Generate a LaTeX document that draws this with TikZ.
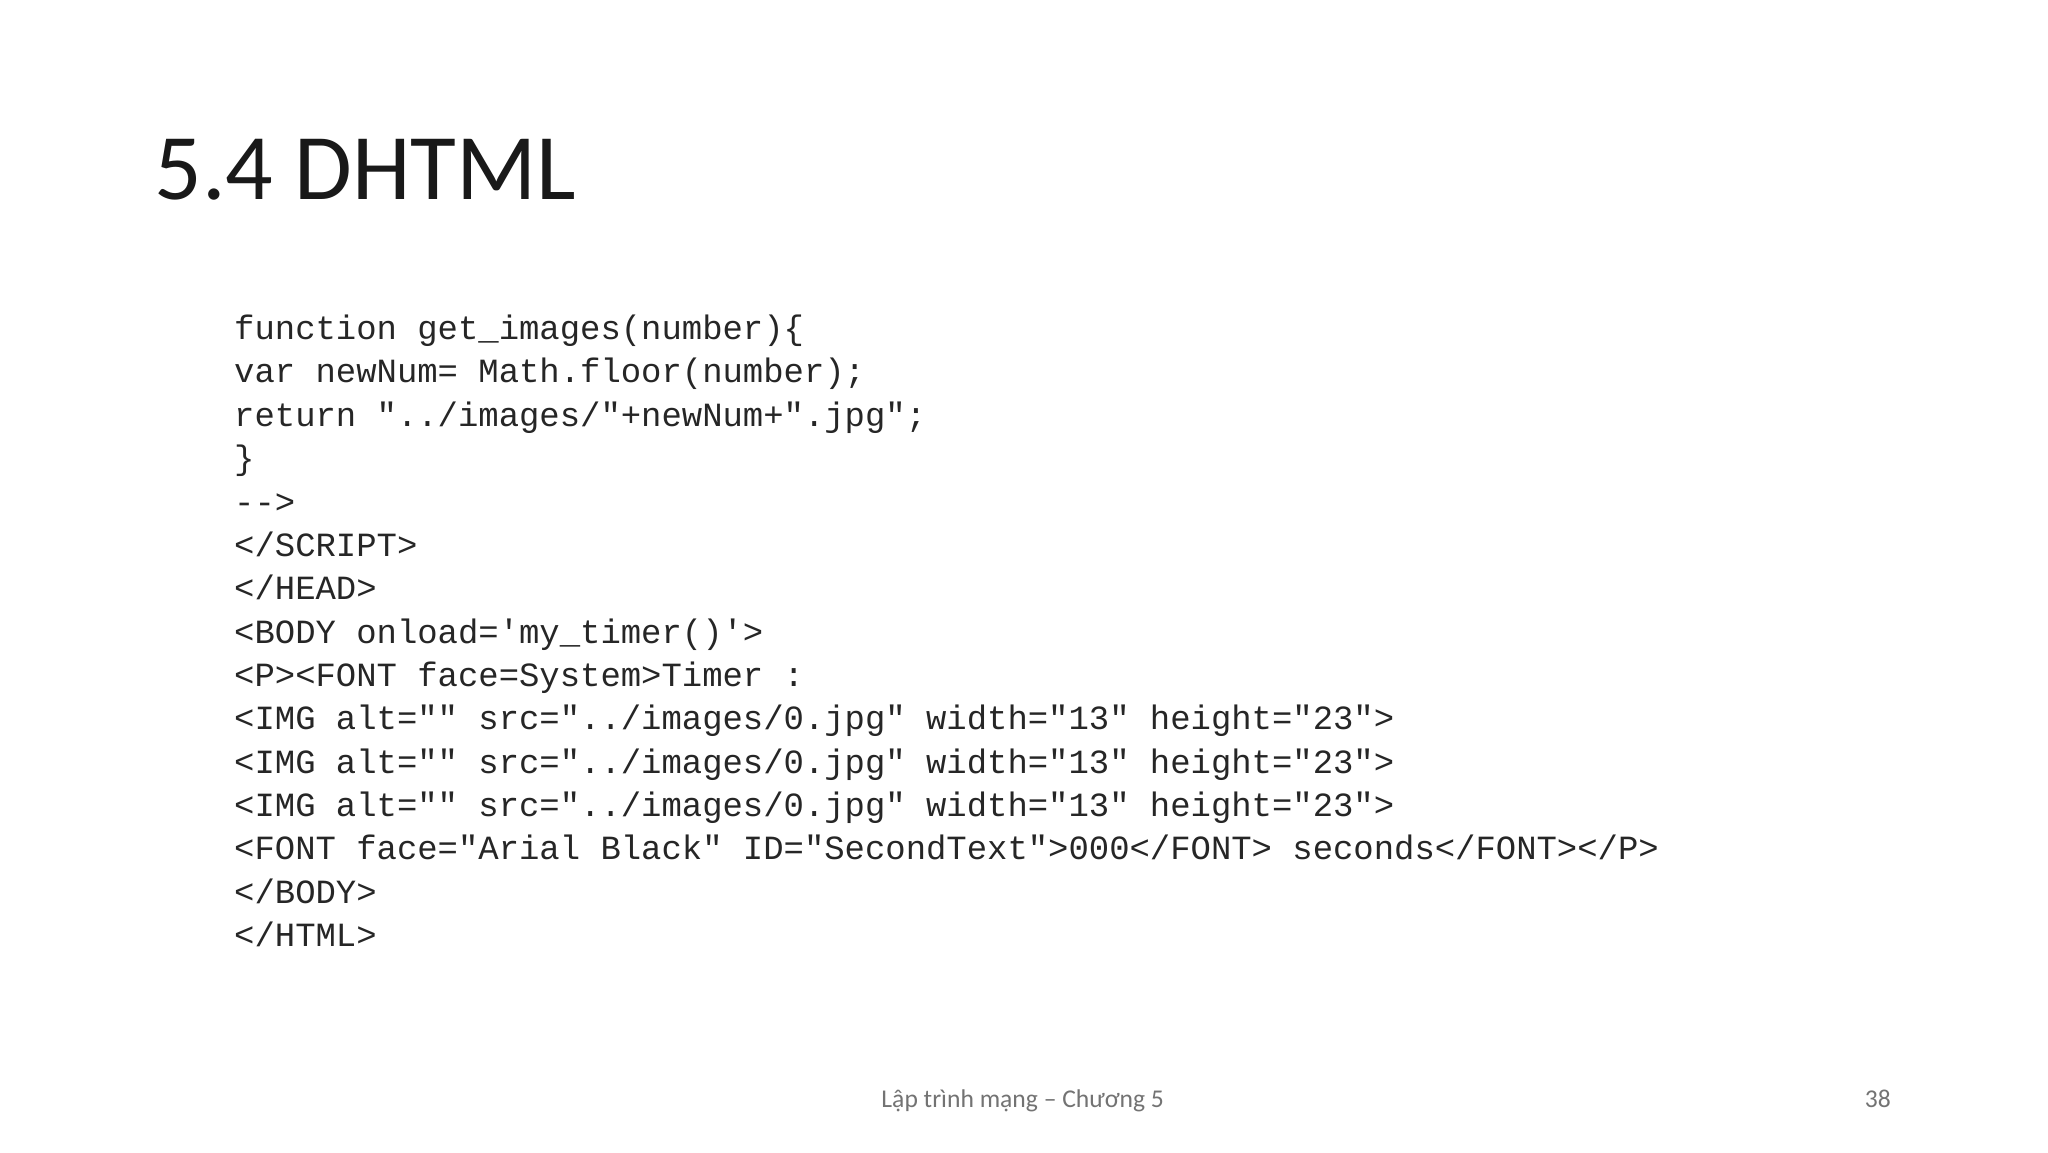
\documentclass[tikz,border=0pt]{standalone}
\usepackage{fontspec}
\setmainfont{Carlito}
\setmonofont{Liberation Mono}
\begin{document}
\begin{tikzpicture}[x=0.6123pt,y=-0.6123pt,
  codeline/.style={anchor=base west,inner sep=0pt,font=\fontsize{15.9}{19}\ttfamily,text=black!85}]
\useasboundingbox[fill=white] (0,0) rectangle (1568,882);
\node[anchor=base west,inner sep=0pt,font=\fontsize{44}{50}\selectfont,text=black!90] (title) at (118,153) {5.4 DHTML};
\node[codeline] (l1) at (179,260) {function get\_images(number)\{};
\node[codeline] (l2) at (179,293.2) {var newNum= Math.floor(number);};
\node[codeline] (l3) at (179,326.4) {return "../images/"+newNum+".jpg";};
\node[codeline] (l4) at (179,359.6) {\}};
\node[codeline] (l5) at (179,392.8) {{-}{-}>};
\node[codeline] (l6) at (179,426) {</SCRIPT>};
\node[codeline] (l7) at (179,459.2) {</HEAD>};
\node[codeline] (l8) at (179,492.4) {<BODY onload='my\_timer()'>};
\node[codeline] (l9) at (179,525.6) {<P><FONT face=System>Timer :};
\node[codeline] (l10) at (179,558.8) {<IMG alt="" src="../images/0.jpg" width="13" height="23">};
\node[codeline] (l11) at (179,592) {<IMG alt="" src="../images/0.jpg" width="13" height="23">};
\node[codeline] (l12) at (179,625.2) {<IMG alt="" src="../images/0.jpg" width="13" height="23">};
\node[codeline] (l13) at (179,658.4) {<FONT face="Arial Black" ID="SecondText">000</FONT> seconds</FONT></P>};
\node[codeline] (l14) at (179,691.6) {</BODY>};
\node[codeline] (l15) at (179,724.8) {</HTML>};
\node[anchor=base,inner sep=0pt,font=\fontsize{12}{14}\selectfont,text=black!55] (foot) at (783,848) {Lập trình mạng – Chương 5};
\node[anchor=base east,inner sep=0pt,font=\fontsize{12}{14}\selectfont,text=black!55] (page) at (1448,848) {38};
\end{tikzpicture}
\end{document}
